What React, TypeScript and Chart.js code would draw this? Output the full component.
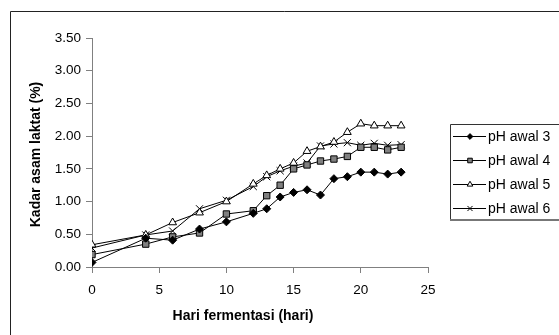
import React, { useEffect, useRef } from "react";
import { Chart, registerables } from "chart.js";
import { drawPoint } from "chart.js/helpers";

Chart.register(...registerables);

// Fermentation day (hari) and lactic acid content (%) for each starting pH
const days = [0, 4, 6, 8, 10, 12, 13, 14, 15, 16, 17, 18, 19, 20, 21, 22, 23];
const phAwal3 = [0.07, 0.44, 0.41, 0.58, 0.69, 0.82, 0.89, 1.07, 1.14, 1.18, 1.1, 1.35, 1.38, 1.45, 1.45, 1.42, 1.45];
const phAwal4 = [0.19, 0.35, 0.46, 0.52, 0.81, 0.86, 1.09, 1.25, 1.5, 1.56, 1.62, 1.65, 1.69, 1.83, 1.83, 1.79, 1.83];
const phAwal5 = [0.34, 0.49, 0.68, 0.83, 1.0, 1.27, 1.4, 1.5, 1.59, 1.77, 1.84, 1.91, 2.06, 2.19, 2.16, 2.16, 2.16];
const phAwal6 = [0.29, 0.49, 0.55, 0.89, 1.02, 1.23, 1.38, 1.47, 1.54, 1.59, 1.85, 1.88, 1.9, 1.86, 1.89, 1.86, 1.87];

const seriesLabels = ["pH awal 3", "pH awal 4", "pH awal 5", "pH awal 6"];
const xTitle = "Hari fermentasi (hari)";
const yTitle = "Kadar asam laktat (%)";

const FONT = "'Liberation Sans', Arial, sans-serif";

const toPoints = (ys: number[]) => days.map((d, i) => ({ x: d, y: ys[i] }));

// Page frame, axis titles and the boxed legend on the right
const decorations = {
  id: "decorations",
  afterDraw(chart: any) {
    const ctx = chart.ctx as CanvasRenderingContext2D;
    const area = chart.chartArea;
    ctx.save();

    // outer frame (left and top edges)
    ctx.strokeStyle = "#222";
    ctx.lineWidth = 1;
    ctx.beginPath();
    ctx.moveTo(10.5, chart.height);
    ctx.lineTo(10.5, 11.5);
    ctx.lineTo(chart.width, 11.5);
    ctx.stroke();

    // axis titles
    ctx.fillStyle = "#000";
    ctx.font = `bold 14px ${FONT}`;
    ctx.textAlign = "center";
    ctx.textBaseline = "middle";
    ctx.fillText(xTitle, area.left + 151, 316);
    ctx.save();
    ctx.translate(36, (area.top + area.bottom) / 2 + 2);
    ctx.rotate(-Math.PI / 2);
    ctx.fillText(yTitle, 0, 0);
    ctx.restore();

    // legend box
    const bx = 450.5;
    const by = 124.5;
    const bh = 95;
    ctx.strokeStyle = "#333";
    ctx.lineWidth = 1;
    ctx.beginPath();
    ctx.moveTo(chart.width + 2, by);
    ctx.lineTo(bx, by);
    ctx.lineTo(bx, by + bh);
    ctx.stroke();
    ctx.strokeStyle = "#777";
    ctx.lineWidth = 2;
    ctx.beginPath();
    ctx.moveTo(bx - 0.5, by + bh + 0.5);
    ctx.lineTo(chart.width + 2, by + bh + 0.5);
    ctx.stroke();

    ctx.font = `14px ${FONT}`;
    ctx.textAlign = "left";
    chart.data.datasets.forEach((ds: any, i: number) => {
      const y = 136.5 + i * 24;
      ctx.strokeStyle = "#000";
      ctx.lineWidth = 1;
      ctx.beginPath();
      ctx.moveTo(453, y);
      ctx.lineTo(486, y);
      ctx.stroke();
      ctx.fillStyle = ds.pointBackgroundColor;
      ctx.strokeStyle = ds.pointBorderColor;
      ctx.lineWidth = ds.pointBorderWidth;
      drawPoint(
        ctx,
        { pointStyle: ds.pointStyle, radius: ds.pointRadius * 0.72, rotation: 0, borderWidth: ds.pointBorderWidth },
        470,
        y
      );
      ctx.fillStyle = "#000";
      ctx.fillText(ds.label, 488, y + 1);
    });

    ctx.restore();
  },
};

export default function App() {
  const canvasRef = useRef<HTMLCanvasElement | null>(null);

  useEffect(() => {
    const canvas = canvasRef.current;
    if (!canvas) return;

    const common = {
      borderColor: "#000",
      borderWidth: 1,
      pointBorderColor: "#000",
      pointBorderWidth: 1,
      tension: 0,
      fill: false,
    };

    const chart = new Chart(canvas, {
      type: "line",
      data: {
        datasets: [
          { ...common, label: seriesLabels[0], data: toPoints(phAwal3), pointStyle: "rectRot", pointRadius: 4, pointBackgroundColor: "#000" },
          { ...common, label: seriesLabels[1], data: toPoints(phAwal4), pointStyle: "rect", pointRadius: 4.5, pointBackgroundColor: "#808080" },
          { ...common, label: seriesLabels[2], data: toPoints(phAwal5), pointStyle: "triangle", pointRadius: 4.5, pointBackgroundColor: "#fff" },
          { ...common, label: seriesLabels[3], data: toPoints(phAwal6), pointStyle: "crossRot", pointRadius: 5, pointBackgroundColor: "#000" },
        ],
      },
      options: {
        animation: false,
        responsive: false,
        maintainAspectRatio: false,
        layout: { padding: { left: 0, top: 38, right: 131, bottom: 0 } },
        plugins: { legend: { display: false }, tooltip: { enabled: false } },
        scales: {
          x: {
            type: "linear",
            min: 0,
            max: 25,
            ticks: { stepSize: 5, color: "#000", font: { family: FONT, size: 13.5 }, padding: 9, maxRotation: 0 },
            grid: { drawOnChartArea: false, drawTicks: true, tickLength: 6, color: "#808080" },
            border: { color: "#808080", width: 1 },
            afterFit: (s: any) => {
              s.height = 68;
            },
          },
          y: {
            type: "linear",
            min: 0,
            max: 3.5,
            ticks: {
              stepSize: 0.5,
              color: "#000",
              font: { family: FONT, size: 13.5 },
              padding: 5,
              callback: (v: any) => Number(v).toFixed(2),
            },
            grid: { drawOnChartArea: false, drawTicks: true, tickLength: 6, color: "#808080" },
            border: { color: "#808080", width: 1 },
            afterFit: (s: any) => {
              s.width = 92;
            },
          },
        },
      },
      plugins: [decorations],
    });

    return () => chart.destroy();
  }, []);

  return (
    <div style={{ position: "absolute", left: 0, top: 0, width: 559, height: 335, background: "#fff" }}>
      <canvas ref={canvasRef} width={559} height={335} style={{ display: "block" }} />
    </div>
  );
}
